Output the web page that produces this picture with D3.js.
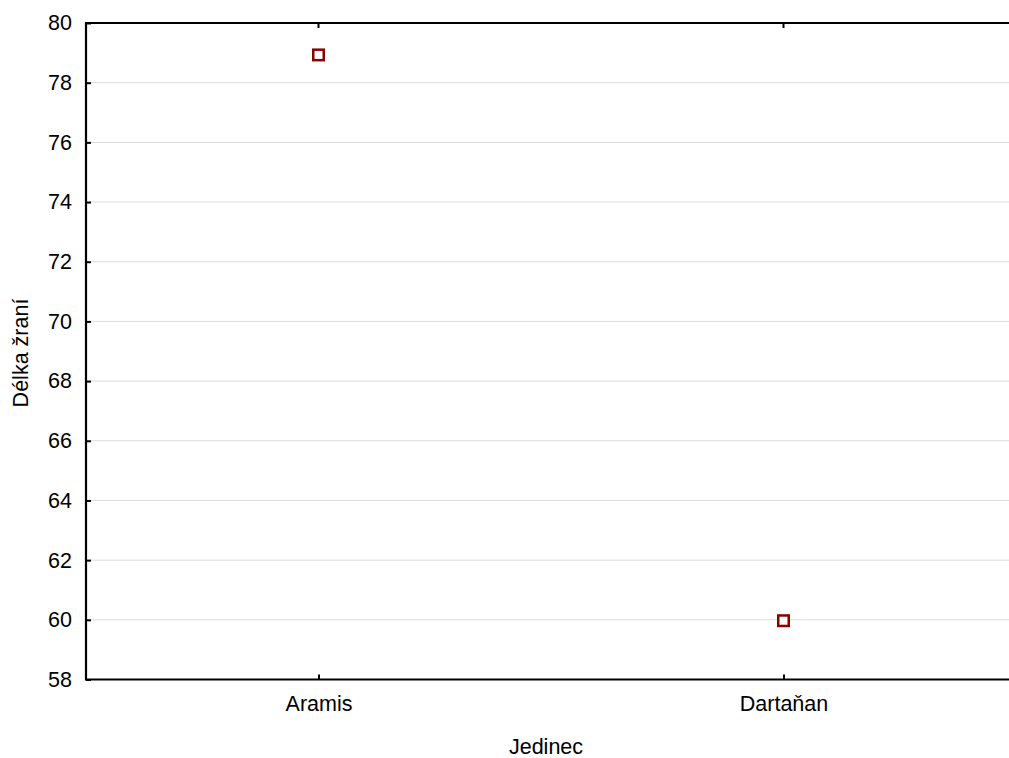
<!DOCTYPE html>
<html>
<head>
<meta charset="utf-8">
<script src="https://cdn.jsdelivr.net/npm/d3@7"></script>
<style>
  html, body { margin: 0; padding: 0; background: #fff; }
  svg { display: block; font-family: "Liberation Sans", Arial, sans-serif; }
</style>
</head>
<body>
<svg id="chart" width="1009" height="758"></svg>
<script>
// Feeding duration per individual
const individuals = ["Aramis", "Dartaňan"];
const feedingLength = [78.93, 59.97];
const yTicks = [58, 60, 62, 64, 66, 68, 70, 72, 74, 76, 78, 80];

const xTitle = "Jedinec";
const yTitle = "Délka žraní";

const fontSize = 21.5;
const svg = d3.select("#chart");
const plotLeft = 86, plotTop = 23, plotBottom = 679.5, plotRight = 1016;

const x = d3.scalePoint().domain(individuals).range([plotLeft, plotRight]).padding(0.5);
const y = d3.scaleLinear().domain([58, 80]).range([plotBottom, plotTop]);

// horizontal grid
svg.append("g")
  .selectAll("line")
  .data(yTicks.filter(t => t !== 58 && t !== 80))
  .join("line")
  .attr("x1", plotLeft).attr("x2", plotRight)
  .attr("y1", d => y(d)).attr("y2", d => y(d))
  .attr("stroke", "#dcdcdc").attr("stroke-width", 1);

// left axis (ticks point inward)
const yAxis = svg.append("g")
  .attr("transform", `translate(${plotLeft},0)`)
  .call(d3.axisLeft(y).tickValues(yTicks).tickSize(-5).tickPadding(14).tickFormat(d3.format("d")));
yAxis.select(".domain").remove();
yAxis.selectAll(".tick line").attr("stroke", "#000").attr("stroke-width", 2);
yAxis.selectAll(".tick text").attr("font-size", fontSize).attr("fill", "#000")
  .attr("font-family", "'Liberation Sans', Arial, sans-serif");

// bottom axis (ticks point inward)
const xAxis = svg.append("g")
  .attr("transform", `translate(0,${plotBottom})`)
  .call(d3.axisBottom(x).tickSize(-5).tickPadding(16));
xAxis.select(".domain").remove();
xAxis.selectAll(".tick line").attr("stroke", "#000").attr("stroke-width", 2);
xAxis.selectAll(".tick text").attr("font-size", fontSize).attr("fill", "#000")
  .attr("font-family", "'Liberation Sans', Arial, sans-serif");

// top ticks
svg.append("g")
  .selectAll("line")
  .data(individuals)
  .join("line")
  .attr("x1", d => x(d)).attr("x2", d => x(d))
  .attr("y1", plotTop).attr("y2", plotTop + 5)
  .attr("stroke", "#000").attr("stroke-width", 2);

// frame: left, top, bottom
svg.append("path")
  .attr("d", `M${plotRight},${plotTop}H${plotLeft}V${plotBottom}H${plotRight}`)
  .attr("fill", "none").attr("stroke", "#000").attr("stroke-width", 2.2);

// points
svg.append("g")
  .selectAll("rect")
  .data(individuals.map((n, i) => ({ n, v: feedingLength[i] })))
  .join("rect")
  .attr("x", d => x(d.n) - 5.25).attr("y", d => y(d.v) - 5.25)
  .attr("width", 10.5).attr("height", 10.5)
  .attr("fill", "#fff").attr("stroke", "#8b0000").attr("stroke-width", 2.5);

// axis titles
svg.append("text")
  .attr("x", 546).attr("y", 754)
  .attr("text-anchor", "middle").attr("font-size", fontSize).attr("fill", "#000")
  .text(xTitle);

svg.append("text")
  .attr("transform", "translate(28,353) rotate(-90)")
  .attr("text-anchor", "middle").attr("font-size", fontSize).attr("fill", "#000")
  .text(yTitle);
</script>
</body>
</html>
